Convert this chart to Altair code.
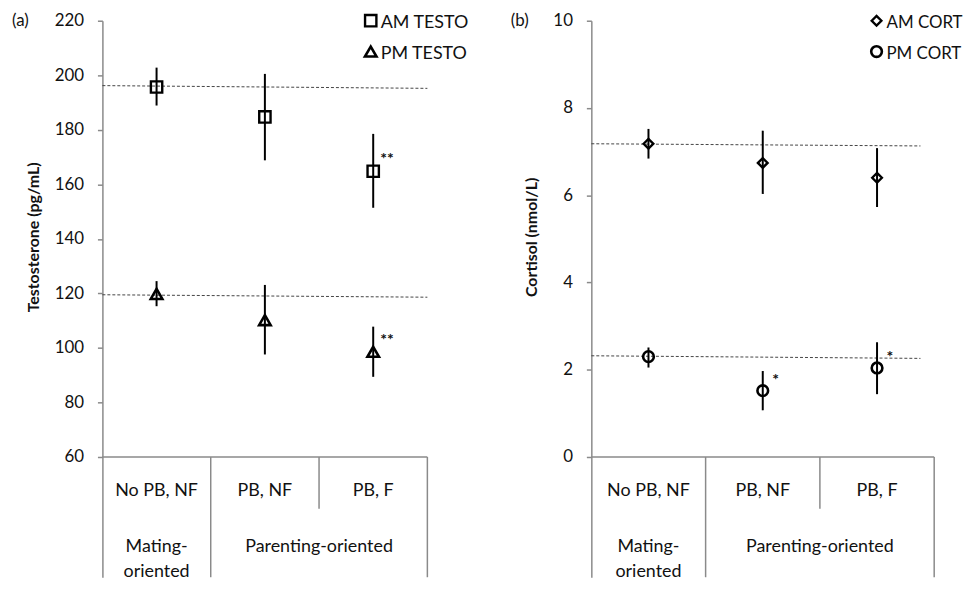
import altair as alt
import pandas as pd

# ---------------- data ----------------
categories = ["No PB, NF", "PB, NF", "PB, F"]
group_labels = [["Mating-", "oriented"], ["Parenting-oriented"]]
group_spans = [[0, 1], [1, 3]]

# Panel (a): testosterone (pg/mL)
testo_series = ["AM TESTO", "PM TESTO"]
testo_mean = [[195.7, 184.7, 164.8], [119.8, 110.2, 98.6]]
testo_lo = [[188.9, 168.8, 151.4], [115.3, 97.6, 89.4]]
testo_hi = [[202.8, 200.5, 178.5], [124.5, 123.1, 107.8]]
testo_stars = [["", "", "**"], ["", "", "**"]]
testo_ref_x = [0, 3]
testo_ref = [[196.2, 195.2], [119.5, 118.6]]
testo_ticks = [60, 80, 100, 120, 140, 160, 180, 200, 220]

# Panel (b): cortisol (nmol/L)
cort_series = ["AM CORT", "PM CORT"]
cort_mean = [[7.18, 6.74, 6.40], [2.30, 1.52, 2.04]]
cort_lo = [[6.84, 6.03, 5.73], [2.05, 1.07, 1.44]]
cort_hi = [[7.52, 7.48, 7.08], [2.51, 1.97, 2.63]]
cort_stars = [["", "", ""], ["", "*", "*"]]
cort_ref_x = [0, 2.88]
cort_ref = [[7.18, 7.13], [2.32, 2.26]]
cort_ticks = [0, 2, 4, 6, 8, 10]

FONT = "Lato"
TXT = "#111111"
GRAY = "#8a8a8a"
H = 560          # plot height (px)
AXIS_PX = 439    # pixel length of the labelled part of the axis


def panel(letter, title, series, shapes, sizes, means, los, his, stars,
          ref_x, refs, ticks, width, star_dx, star_dy, legend_x, legend_fs):
    tmin, tmax = ticks[0], ticks[-1]
    ppu = AXIS_PX / (tmax - tmin)
    dmin = tmax - H / ppu

    rows = []
    for s, m, lo, hi, st in zip(series, means, los, his, stars):
        for i, c in enumerate(categories):
            rows.append(dict(series=s, cat=c, pos=i + 0.5, v=m[i], lo=lo[i],
                             hi=hi[i], star=st[i]))
    df = pd.DataFrame(rows)

    ref_rows = []
    for s, r in zip(series, refs):
        for xv, yv in zip(ref_x, r):
            ref_rows.append(dict(series=s, x=xv, v=yv))
    dref = pd.DataFrame(ref_rows)

    xscale = alt.Scale(domain=[0, 3], nice=False, zero=False)
    yscale = alt.Scale(domain=[dmin, tmax], nice=False, zero=False)
    yaxis = alt.Axis(values=ticks, title=title, grid=False, format="d",
                     titleY=AXIS_PX / 2 - 2)

    def X(f):
        return alt.X(f"{f}:Q", scale=xscale, axis=None)

    def Y(f):
        return alt.Y(f"{f}:Q", scale=yscale, axis=yaxis)

    shape_enc = alt.Shape("series:N", scale=alt.Scale(domain=series, range=shapes), legend=None)
    size_enc = alt.Size("series:O", scale=alt.Scale(domain=series, range=sizes), legend=None)
    sw_enc = alt.StrokeWidth("series:O", scale=alt.Scale(domain=series, range=[2.4, 2.6]), legend=None)

    # table below the plot
    hline = alt.Chart(pd.DataFrame({"x": [0], "x2": [3], "y": [tmin]})).mark_rule(
        color=GRAY, strokeWidth=1.5).encode(x=X("x"), x2="x2:Q", y=Y("y"))
    vfull = alt.Chart(pd.DataFrame({"x": [1, 3], "y": [tmin, tmin], "y2": [dmin, dmin]})).mark_rule(
        color=GRAY, strokeWidth=1.5).encode(x=X("x"), y=Y("y"), y2="y2:Q")
    vshort = alt.Chart(pd.DataFrame({"x": [2], "y": [tmin]})).mark_rule(
        color=GRAY, strokeWidth=1.5).encode(x=X("x"), y=Y("y"), y2=alt.value(491))

    cat_df = pd.DataFrame({"pos": [i + 0.5 for i in range(len(categories))], "label": categories})
    cat_text = alt.Chart(cat_df).mark_text(font=FONT, fontSize=18, color=TXT, baseline="middle").encode(
        x=X("pos"), y=alt.value(473), text="label:N")

    grp_vals = [dict(pos=(a + b) / 2, label=lab) for lab, (a, b) in zip(group_labels, group_spans)]
    grp_text = alt.Chart(alt.Data(values=grp_vals)).mark_text(
        font=FONT, fontSize=18, color=TXT, baseline="top", lineHeight=25).encode(
        x=X("pos"), y=alt.value(521), text="label:N")

    ref = alt.Chart(dref).mark_line(color="#444444", strokeWidth=1, strokeDash=[3, 2]).encode(
        x=X("x"), y=Y("v"), detail="series:N")

    err = alt.Chart(df).mark_rule(color="black", strokeWidth=2).encode(
        x=X("pos"), y=Y("lo"), y2="hi:Q")

    pts = alt.Chart(df).mark_point(filled=False, color="black", opacity=1).encode(
        x=X("pos"), y=Y("v"), shape=shape_enc, size=size_enc, strokeWidth=sw_enc)

    star = alt.Chart(df).transform_filter(alt.datum.star != "").mark_text(
        font=FONT, fontSize=16, fontWeight="bold", color=TXT, dx=star_dx, dy=star_dy).encode(
        x=X("pos"), y=Y("v"), text="star:N")

    layers = [hline, vfull, vshort, cat_text, grp_text, ref, err, pts, star]

    # panel letter
    layers.append(alt.Chart(pd.DataFrame({"t": [letter[0]]})).mark_text(
        font=FONT, fontSize=17, color=TXT, align="left", baseline="middle").encode(
        x=alt.value(letter[1]), y=alt.value(0), text="t:N"))

    # legend
    leg_y_sym = [0, 31]
    leg_y_txt = [2, 34]
    for i, s in enumerate(series):
        ld = pd.DataFrame({"series": [s]})
        layers.append(alt.Chart(ld).mark_point(filled=False, color="black", opacity=1).encode(
            x=alt.value(legend_x), y=alt.value(leg_y_sym[i]), shape=shape_enc, size=size_enc,
            strokeWidth=sw_enc))
        layers.append(alt.Chart(ld).mark_text(font=FONT, fontSize=legend_fs, color=TXT, align="left",
                                              baseline="middle").encode(
            x=alt.value(legend_x + 10), y=alt.value(leg_y_txt[i]), text="series:N"))

    return alt.layer(*layers).properties(width=width, height=H)


left = panel(("(a)", -91), "Testosterone (pg/mL)", testo_series, ["square", "triangle-up"], [130, 135],
             testo_mean, testo_lo, testo_hi, testo_stars, testo_ref_x, testo_ref, testo_ticks,
             327, 14, -12, 270, 18)
right = panel(("(b)", -81), "Cortisol (nmol/L)", cort_series, ["diamond", "circle"], [95, 115],
              cort_mean, cort_lo, cort_hi, cort_stars, cort_ref_x, cort_ref, cort_ticks,
              345, 13, -11, 287, 17)

chart = alt.hconcat(left, right, spacing=42).resolve_scale(
    x="independent", y="independent", shape="independent", size="independent",
    strokeWidth="independent"
).configure_view(stroke=None).configure_axis(
    domainColor=GRAY, domainWidth=1.5, tickColor=GRAY, tickWidth=1.5, tickSize=5,
    labelFont=FONT, labelFontSize=17, labelColor=TXT, labelPadding=14,
    titleFont=FONT, titleFontSize=16, titleFontWeight="bold", titleColor=TXT, titlePadding=13
).properties(padding={"left": 4, "top": 0, "right": 0, "bottom": 0}, background="white")

chart.save("out.html", embed_options={"renderer": "svg", "actions": False})
